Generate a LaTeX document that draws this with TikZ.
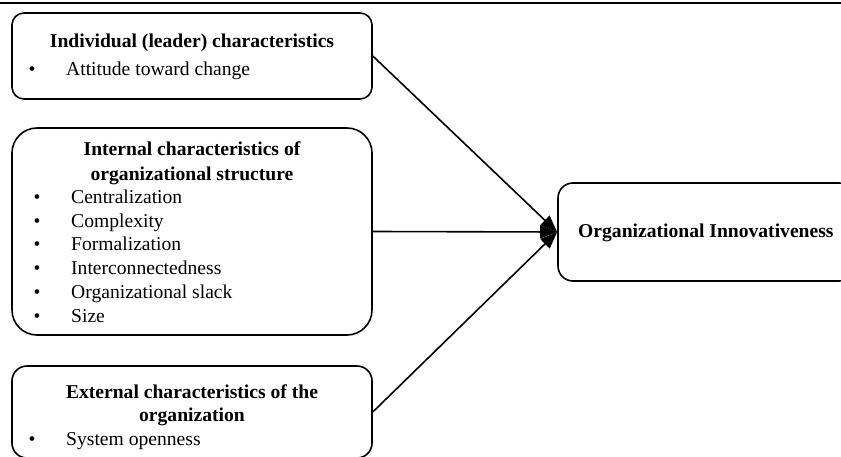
\documentclass[tikz,border=0pt]{standalone}
\usepackage{fontspec}
\setmainfont{Liberation Serif}
\usetikzlibrary{arrows.meta}
\begin{document}
\begin{tikzpicture}[x=1pt,y=-1pt,
  box/.style={draw=black,line width=1.6pt,fill=white,inner sep=0pt},
  txt/.style={inner sep=0pt,yshift=-3.5pt,font=\fontsize{19.6}{23.5}\selectfont},
  head/.style={txt,font=\fontsize{19.6}{23.5}\selectfont\bfseries,anchor=mid},
  item/.style={txt,anchor=mid west},
  dot/.style={txt,anchor=mid},
  link/.style={line width=1.6pt,-{Triangle[length=17pt,width=13pt]}}]
  \useasboundingbox (0,0) rectangle (841,457);
  \clip (0,0) rectangle (841,457);
  % rule across the top
  \draw[line width=1.6pt] (0,3) -- (841,3);

  % leader characteristics
  \node[box,rounded corners=12pt,minimum width=360pt,minimum height=86pt] (ind) at (192,56) {};
  \node[head] (indh) at (192,42) {Individual (leader) characteristics};
  \node[dot] (indb) at (32,70) {\textbullet};
  \node[item] (indi) at (66,70) {Attitude toward change};

  % internal structure
  \node[box,rounded corners=25pt,minimum width=360pt,minimum height=207pt] (int) at (192,231.5) {};
  \node[head] (inth1) at (192,150) {Internal characteristics of};
  \node[head] (inth2) at (192,175) {organizational structure};
  \foreach \y/\t [count=\i] in {198/Centralization,222/Complexity,245/Formalization,
      269/Interconnectedness,293/Organizational slack,317/Size}{
    \node[dot] (intb\i) at (37,\y) {\textbullet};
    \node[item] (inti\i) at (71,\y) {\t};
  }

  % external characteristics
  \node[box,rounded corners=15pt,minimum width=360pt,minimum height=92pt] (ext) at (192,412) {};
  \node[head] (exth1) at (192,393) {External characteristics of the};
  \node[head] (exth2) at (192,416) {organization};
  \node[dot] (extb) at (32,440) {\textbullet};
  \node[item] (exti) at (66,440) {System openness};

  % outcome
  \node[box,rounded corners=15pt,minimum width=296pt,minimum height=98pt] (out) at (706,232) {};
  \node[txt,font=\fontsize{19.6}{23.5}\selectfont\bfseries,anchor=mid west] (outt) at (578,232) {Organizational Innovativeness};

  % influences
  \draw[link] (ind.east) -- (out.west);
  \draw[link] (int.east) -- (out.west);
  \draw[link] (ext.east) -- (out.west);
\end{tikzpicture}
\end{document}
